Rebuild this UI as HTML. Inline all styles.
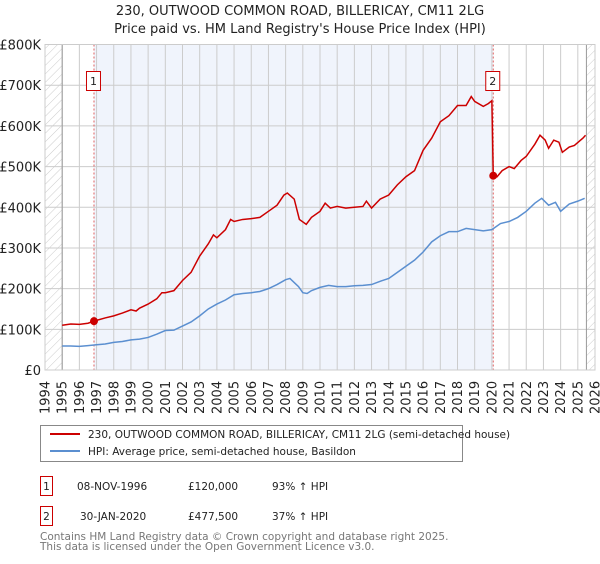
<!DOCTYPE html>
<html><head><meta charset="utf-8"><style>
body{margin:0;background:#fff;font-family:"DejaVu Sans","Liberation Sans",sans-serif;}
svg text{font-family:"DejaVu Sans","Liberation Sans",sans-serif;}
</style></head><body>
<svg id="chart" width="600" height="560" xmlns="http://www.w3.org/2000/svg">
<defs><pattern id="hatch" width="6" height="6" patternUnits="userSpaceOnUse" patternTransform="rotate(45)"><line x1="0" y1="0" x2="0" y2="6" stroke="#ccc" stroke-width="1"/></pattern></defs>
<text x="300" y="15" text-anchor="middle" font-size="13" fill="#222">230, OUTWOOD COMMON ROAD, BILLERICAY, CM11 2LG</text>
<text x="300" y="33" text-anchor="middle" font-size="13" fill="#222">Price paid vs. HM Land Registry's House Price Index (HPI)</text>
<g id="plot"></g>
<g>
<rect x="40.5" y="425.5" width="422" height="36" fill="#fff" stroke="#888"/>
<line x1="50" y1="434" x2="80" y2="434" stroke="#cc0000" stroke-width="2"/>
<text x="88" y="438" font-size="10.5" fill="#222">230, OUTWOOD COMMON ROAD, BILLERICAY, CM11 2LG (semi-detached house)</text>
<line x1="50" y1="451" x2="80" y2="451" stroke="#5b8fd0" stroke-width="2"/>
<text x="88" y="455" font-size="10.5" fill="#222">HPI: Average price, semi-detached house, Basildon</text>
</g>
<g font-size="10.5" fill="#222">
<rect x="40.5" y="476.5" width="12" height="19" fill="#fff" stroke="#cc0000"/>
<text x="46.5" y="490" text-anchor="middle">1</text>
<text x="77" y="490">08-NOV-1996</text><text x="188" y="490">£120,000</text><text x="272" y="490">93% ↑ HPI</text>
<rect x="40.5" y="506.5" width="12" height="19" fill="#fff" stroke="#cc0000"/>
<text x="46.5" y="520" text-anchor="middle">2</text>
<text x="80" y="520">30-JAN-2020</text><text x="188" y="520">£477,500</text><text x="272" y="520">37% ↑ HPI</text>
</g>
<text x="40" y="540" font-size="10.5" fill="#777">Contains HM Land Registry data © Crown copyright and database right 2025.</text>
<text x="40" y="550" font-size="10.5" fill="#777">This data is licensed under the Open Government Licence v3.0.</text>
</svg>
<script>
const hpiYears=[1995,1995.5,1996,1996.5,1997,1997.5,1998,1998.5,1999,1999.5,2000,2000.5,2001,2001.5,2002,2002.5,2003,2003.5,2004,2004.5,2005,2005.5,2006,2006.5,2007,2007.5,2008,2008.25,2008.5,2008.75,2009,2009.25,2009.5,2010,2010.5,2011,2011.5,2012,2012.5,2013,2013.5,2014,2014.5,2015,2015.5,2016,2016.5,2017,2017.5,2018,2018.5,2019,2019.5,2020,2020.5,2021,2021.5,2022,2022.5,2022.9,2023.3,2023.7,2024,2024.5,2025,2025.4];
const hpiValues=[59,59,58,60,62,64,68,70,74,76,80,88,97,98,108,118,133,150,162,172,185,188,190,193,200,210,222,225,215,205,190,188,195,203,208,205,205,207,208,210,218,225,240,255,270,290,315,330,340,340,348,345,342,345,360,365,375,390,410,422,405,412,390,408,415,422];
const priceYears=[1995,1995.5,1996,1996.5,1996.85,1997,1997.5,1998,1998.5,1999,1999.3,1999.5,2000,2000.5,2000.8,2001,2001.5,2002,2002.5,2003,2003.5,2003.8,2004,2004.5,2004.8,2005,2005.5,2006,2006.5,2007,2007.5,2007.9,2008.1,2008.5,2008.8,2009.2,2009.5,2010,2010.3,2010.6,2011,2011.5,2012,2012.5,2012.7,2013,2013.5,2014,2014.5,2015,2015.5,2016,2016.5,2017,2017.5,2018,2018.5,2018.8,2019,2019.5,2019.8,2020.0,2020.08,2020.3,2020.6,2021,2021.3,2021.7,2022,2022.5,2022.8,2023.1,2023.3,2023.6,2023.9,2024.1,2024.5,2024.8,2025.3,2025.45];
const priceValues=[110,113,112,115,120,122,128,133,140,148,145,152,162,175,190,190,195,220,240,280,310,332,325,345,370,365,370,372,375,390,405,430,435,420,370,358,375,390,410,398,402,398,400,402,415,398,420,430,455,475,490,540,570,610,625,650,650,672,660,648,655,662,477.5,475,490,500,495,515,525,555,577,565,545,565,560,535,548,552,570,577];
const sales=[{label:"1",year:1996.85,value:120},{label:"2",year:2020.08,value:477.5}];
const yTicks=[0,100,200,300,400,500,600,700,800];
const yTickLabels=["£0","£100K","£200K","£300K","£400K","£500K","£600K","£700K","£800K"];
const xTicks=[1994,1995,1996,1997,1998,1999,2000,2001,2002,2003,2004,2005,2006,2007,2008,2009,2010,2011,2012,2013,2014,2015,2016,2017,2018,2019,2020,2021,2022,2023,2024,2025,2026];

const L=45,R=595,T=44.5,B=370;
const x=v=>L+(v-1994)/32*(R-L);
const y=v=>B-v/800*(B-T);
const NS="http://www.w3.org/2000/svg";
const g=document.getElementById('plot');
function mk(tag,attrs){const e=document.createElementNS(NS,tag);for(const k in attrs)e.setAttribute(k,attrs[k]);g.appendChild(e);return e;}

let e;
e=mk('rect',{x:x(sales[0].year),y:T,width:x(sales[1].year)-x(sales[0].year),height:B-T,fill:'#f0f4fc'});


e=mk('rect',{x:L,y:T,width:x(1995)-L,height:B-T,fill:'url(#hatch)'});


e=mk('rect',{x:x(2025.5),y:T,width:R-x(2025.5),height:B-T,fill:'url(#hatch)'});



yTicks.forEach((t,i)=>{
  e=mk('line',{x1:L,x2:R,y1:y(t),y2:y(t),stroke:'#ccc','stroke-width':1});
  
  
  e=mk('text',{x:L-4,y:y(t)+5,'text-anchor':'end','font-size':13,fill:'#222'});
  e.textContent=yTickLabels[i];
  
  
});
xTicks.forEach(t=>{
  e=mk('line',{x1:x(t),x2:x(t),y1:T,y2:B,stroke:'#ccc','stroke-width':1});
  
  
  e=mk('text',{transform:`translate(${x(t)+4.5},${414}) rotate(-90)`,'font-size':13,fill:'#222'});
  e.textContent=t;
  
  
});
e=mk('line',{x1:x(1995),x2:x(1995),y1:T,y2:B,stroke:'#999'});


e=mk('line',{x1:x(2025.5),x2:x(2025.5),y1:T,y2:B,stroke:'#999'});



sales.forEach(s=>{
  e=mk('line',{x1:x(s.year),x2:x(s.year),y1:T,y2:B,stroke:'#e06060','stroke-dasharray':'2,2','stroke-width':1});
  
  
});

e=mk('polyline',{points:hpiYears.map((d,i)=>x(d)+','+y(hpiValues[i])).join(' '),fill:'none',stroke:'#5b8fd0','stroke-width':1.5});


e=mk('polyline',{points:priceYears.map((d,i)=>x(d)+','+y(priceValues[i])).join(' '),fill:'none',stroke:'#cc0000','stroke-width':1.5});



sales.forEach(s=>{
  e=mk('circle',{cx:x(s.year),cy:y(s.value),r:4,fill:'#cc0000'});
  
  
  e=mk('rect',{x:x(s.year)-7.5,y:71.5,width:14,height:19,fill:'#fff',stroke:'#cc0000'});
  
  
  e=mk('text',{x:x(s.year)-0.5,y:85,'text-anchor':'middle','font-size':11,fill:'#222'});
  e.textContent=s.label;
  
  
});
e=mk('rect',{x:L,y:T,width:R-L,height:B-T,fill:'none',stroke:'#ccc'});


</script>
</body></html>
